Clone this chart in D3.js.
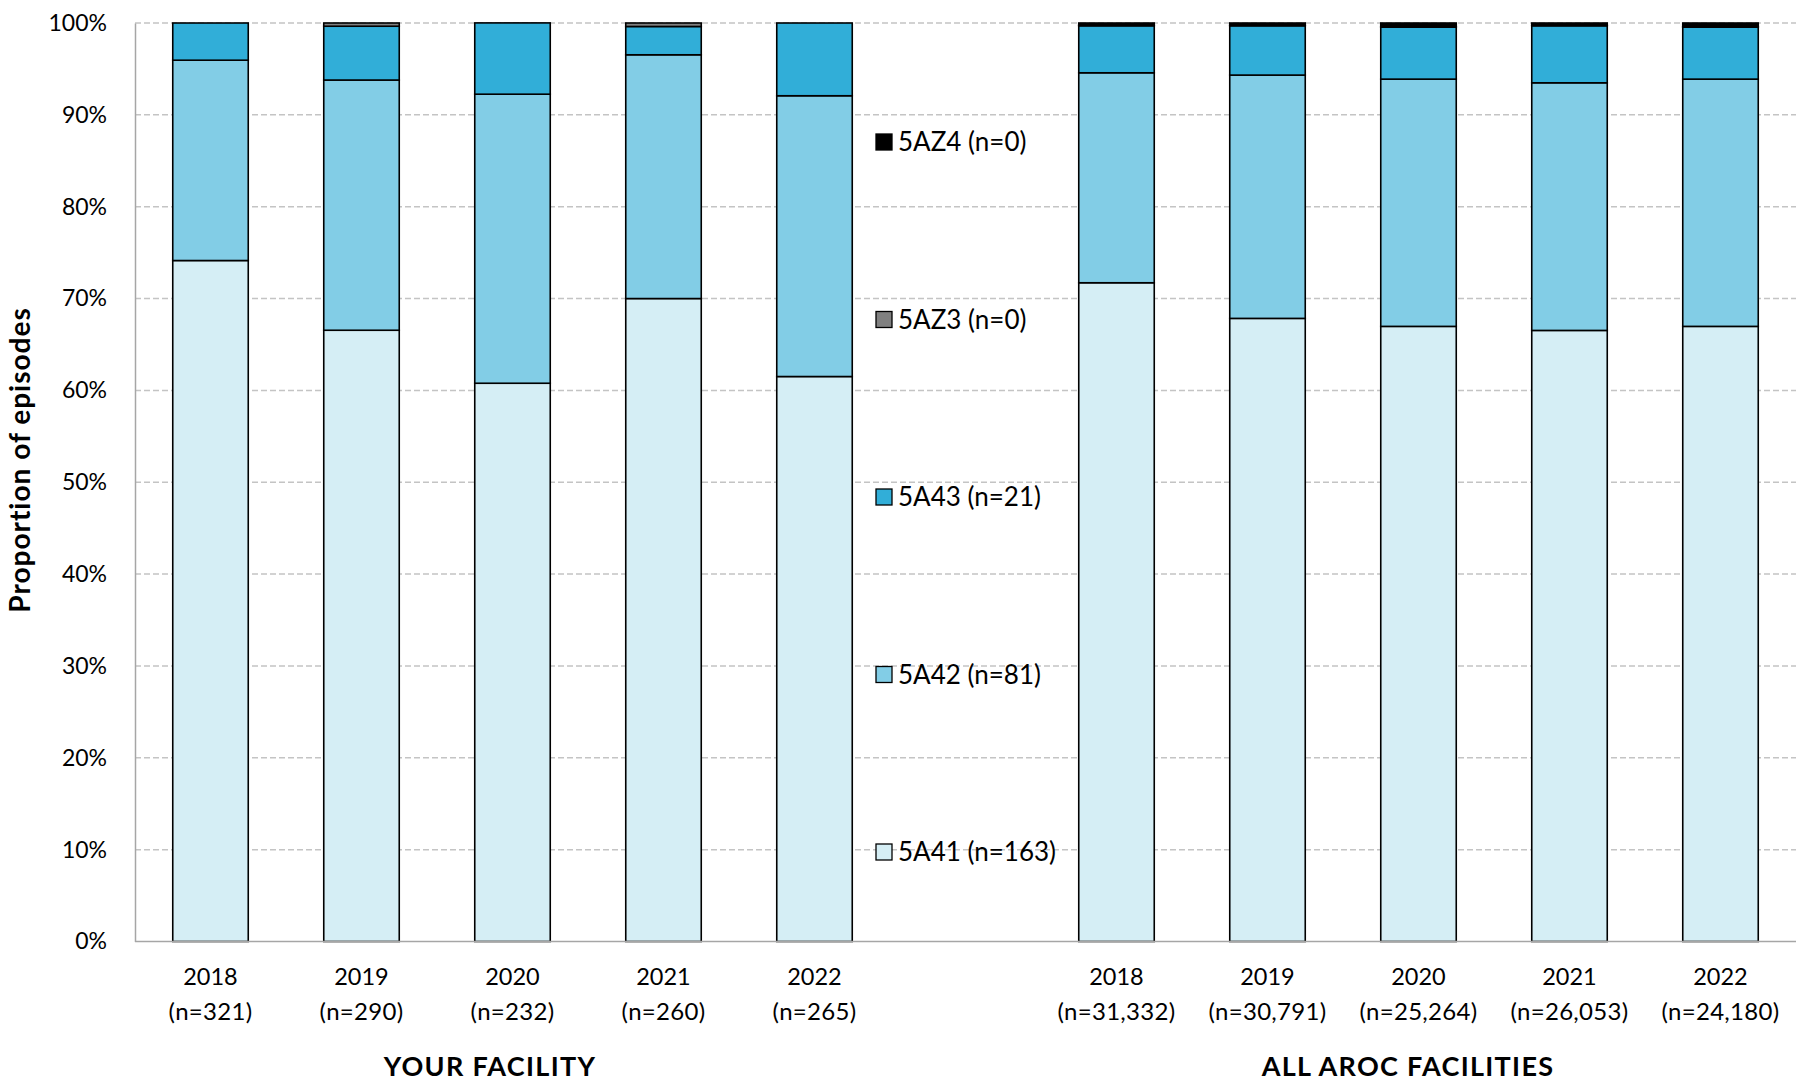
<!DOCTYPE html>
<html><head><meta charset="utf-8">
<script src="https://cdn.jsdelivr.net/npm/d3@7"></script>
<style>
html,body{margin:0;padding:0;background:#fff;}
svg{display:block;font-family:Lato,"Noto Sans",sans-serif;}
</style></head>
<body><svg id="chart" width="1796" height="1081"></svg>
<script>
// ---- data ----
const groups = ["YOUR FACILITY", "ALL AROC FACILITIES"];
const years = ["2018", "2019", "2020", "2021", "2022"];
const nYour = ["321", "290", "232", "260", "265"];
const nAroc = ["31,332", "30,791", "25,264", "26,053", "24,180"];
const seriesKeys = ["5A41", "5A42", "5A43", "5AZ3", "5AZ4"];
const legendLabels = ["5A41 (n=163)", "5A42 (n=81)", "5A43 (n=21)", "5AZ3 (n=0)", "5AZ4 (n=0)"];
const colors = ["#d5eef5", "#82cde6", "#31aed8", "#808080", "#000000"];
// percentages per year (2018..2022)
const your5A41 = [74.14, 66.55, 60.78, 70.00, 61.51];
const your5A42 = [21.81, 27.24, 31.47, 26.54, 30.57];
const your5A43 = [4.05, 5.86, 7.76, 3.08, 7.92];
const your5AZ3 = [0, 0.35, 0, 0.38, 0];
const your5AZ4 = [0, 0, 0, 0, 0];
const aroc5A41 = [71.72, 67.84, 66.97, 66.53, 66.97];
const aroc5A42 = [22.86, 26.49, 26.92, 26.96, 26.92];
const aroc5A43 = [5.12, 5.37, 5.66, 6.21, 5.66];
const aroc5AZ3 = [0.05, 0.05, 0.05, 0.05, 0.05];
const aroc5AZ4 = [0.25, 0.25, 0.40, 0.25, 0.40];
const yTicks = [0, 10, 20, 30, 40, 50, 60, 70, 80, 90, 100];

(function () {
// ---- build rows ----
const rows = [];
years.forEach((yr, i) => rows.push({key: "Y" + yr, year: yr, n: nYour[i],
  "5A41": your5A41[i], "5A42": your5A42[i], "5A43": your5A43[i], "5AZ3": your5AZ3[i], "5AZ4": your5AZ4[i]}));
rows.push({key: "gap", gap: true, "5A41": 0, "5A42": 0, "5A43": 0, "5AZ3": 0, "5AZ4": 0});
years.forEach((yr, i) => rows.push({key: "A" + yr, year: yr, n: nAroc[i],
  "5A41": aroc5A41[i], "5A42": aroc5A42[i], "5A43": aroc5A43[i], "5AZ3": aroc5AZ3[i], "5AZ4": aroc5AZ4[i]}));

const svg = d3.select("#chart");
const mLeft = 135, mRight = 1796, mTop = 23, mBottom = 941.5;

const x = d3.scaleBand().domain(rows.map(d => d.key)).range([mLeft, mRight])
  .paddingInner(0.5).paddingOuter(0.25);
const y = d3.scaleLinear().domain([0, 100]).range([mBottom, mTop]);
const color = d3.scaleOrdinal().domain(seriesKeys).range(colors);

// gridlines
svg.append("g").selectAll("line").data(yTicks.filter(t => t > 0)).join("line")
  .attr("x1", mLeft).attr("x2", mRight)
  .attr("y1", d => y(d)).attr("y2", d => y(d))
  .attr("stroke", "#c4c4c4").attr("stroke-width", 1.5).attr("stroke-dasharray", "6,3");

// y axis
const yAxis = svg.append("g").attr("transform", `translate(${mLeft},0)`)
  .call(d3.axisLeft(y).tickValues(yTicks).tickFormat(d => d + "%").tickSize(0).tickPadding(28));
yAxis.select(".domain").attr("stroke", "#a6a6a6").attr("stroke-width", 1.5);
yAxis.selectAll("text").attr("font-size", 23).attr("fill", "#000")
  .attr("font-family", "Lato, sans-serif");

// stacked bars
const stack = d3.stack().keys(seriesKeys);
const stacked = stack(rows.filter(d => !d.gap));
svg.append("g").selectAll("g").data(stacked).join("g")
  .attr("fill", d => color(d.key))
  .selectAll("rect").data(d => d).join("rect")
  .attr("x", d => x(d.data.key))
  .attr("width", x.bandwidth())
  .attr("y", d => y(d[1]))
  .attr("height", d => Math.max(0, y(d[0]) - y(d[1])))
  .attr("stroke", "#000").attr("stroke-width", 1.6);

// x axis baseline
svg.append("line").attr("x1", mLeft).attr("x2", mRight).attr("y1", mBottom).attr("y2", mBottom)
  .attr("stroke", "#a6a6a6").attr("stroke-width", 1.5);

// x labels
const xl = svg.append("g").selectAll("g").data(rows.filter(d => !d.gap)).join("g")
  .attr("transform", d => `translate(${x(d.key) + x.bandwidth() / 2},0)`);
xl.append("text").attr("y", 985).attr("text-anchor", "middle").attr("font-size", 23.5)
  .text(d => d.year);
xl.append("text").attr("y", 1020).attr("text-anchor", "middle").attr("font-size", 24)
  .attr("letter-spacing", 0.3).text(d => "(n=" + d.n + ")");

// group labels
const groupX = [490, 1408];
svg.append("g").selectAll("text").data(groups).join("text")
  .attr("x", (d, i) => groupX[i]).attr("y", 1076).attr("text-anchor", "middle")
  .attr("font-size", 27).attr("font-weight", "bold").attr("letter-spacing", 1.3).text(d => d);

// y title
svg.append("text").attr("transform", "translate(30,460) rotate(-90)")
  .attr("text-anchor", "middle").attr("font-size", 28).attr("font-weight", "bold")
  .attr("letter-spacing", 1).text("Proportion of episodes");

// legend (reverse order top to bottom)
const legY = d3.scaleLinear().domain([0, 4]).range([852, 142]);
const leg = svg.append("g").selectAll("g").data(seriesKeys.map((k, i) => ({k, label: legendLabels[i], i})))
  .join("g").attr("transform", d => `translate(876,${legY(d.i)})`);
leg.append("rect").attr("x", 0).attr("y", -8).attr("width", 16).attr("height", 16)
  .attr("fill", d => color(d.k)).attr("stroke", "#000").attr("stroke-width", 1.3);
leg.append("text").attr("x", 22).attr("y", 9).attr("font-size", 26).text(d => d.label);
})();
</script></body></html>
